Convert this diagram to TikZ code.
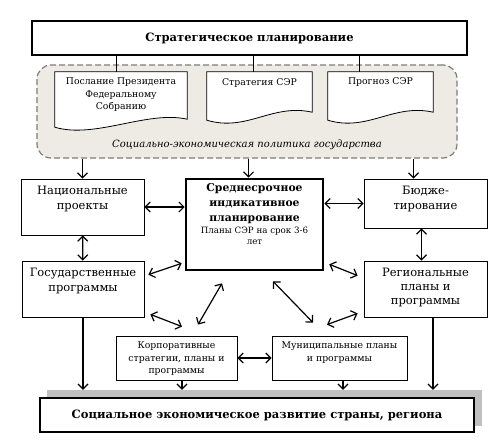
\documentclass[tikz,border=0pt]{standalone}
\usepackage{fontspec}
\setmainfont{DejaVu Serif}
\usetikzlibrary{arrows.meta}

\definecolor{polfill}{RGB}{237,235,228}
\definecolor{polline}{RGB}{125,125,125}
\definecolor{shadow}{RGB}{192,192,192}

% outline of a document sheet with a wavy lower edge
\newcommand{\docpath}[1]{\draw[line width=0.8pt, fill=white] (#1.north west) -- (#1.north east) -- ([yshift=11pt]#1.south east) .. controls ([xshift=-40pt,yshift=20pt]#1.south east) and ([xshift=40pt,yshift=-9pt]#1.south west) .. ([yshift=3pt]#1.south west) -- cycle;}

\begin{document}
\begin{tikzpicture}[x=1pt, y=-1pt, >={Straight Barb[length=5pt,width=10pt]}]
	\tikzstyle{every node}=[inner sep=0pt, font=\fontsize{11.5}{15}\selectfont]
	\tikzstyle{blk}=[draw, rectangle, fill=white, line width=0.8pt]
	\tikzstyle{big}=[draw, rectangle, fill=white, line width=2.6pt, font=\fontsize{11.5}{14}\selectfont\bfseries]
	\tikzstyle{region}=[draw=polline, fill=polfill, dash pattern=on 6pt off 3pt, line width=1.2pt, rounded corners=14pt]
	\tikzstyle{txt}=[anchor=north, align=center, yshift=-6pt]
	\tikzstyle{small}=[font=\fontsize{9.3}{12.5}\selectfont]
	\tikzstyle{arr}=[<->, line width=1.2pt]
	\tikzstyle{one}=[->, line width=1.2pt]
	\useasboundingbox (0,0) rectangle (500,441);

	% strategic level
	\draw (249.5,38) node (top) [big, minimum width=435, minimum height=34] {Стратегическое планирование};
	\draw (247,111.5) node (pol) [region, minimum width=420, minimum height=93, label={[anchor=south, yshift=9pt, font=\fontsize{10}{12}\selectfont\itshape]south:Социально-экономическая политика государства}] {};

	% documents
	\draw (121,101) node (d1) [minimum width=132, minimum height=58] {};
	\docpath{d1}
	\draw (d1.north) node (d1t) [txt, small] {Послание Президента\\Федеральному\\Собранию};
	\draw (259.5,97.5) node (d2) [minimum width=105, minimum height=51] {};
	\docpath{d2}
	\draw (d2.north) node (d2t) [txt, small, yshift=-1pt] {Стратегия СЭР};
	\draw (380.5,97.5) node (d3) [minimum width=105, minimum height=51] {};
	\docpath{d3}
	\draw (d3.north) node (d3t) [txt, small] {Прогноз СЭР};

	\draw[line width=0.8pt] ([xshift=-5pt]d1.north |- top.south) -- ([xshift=-5pt]d1.north);
	\draw[line width=0.8pt] ([xshift=-6.5pt]d2.north |- top.south) -- ([xshift=-6.5pt]d2.north);
	\draw[line width=0.8pt] ([xshift=-21.5pt]d3.north |- top.south) -- ([xshift=-21.5pt]d3.north);

	% middle level
	\draw (82.5,207) node (nat) [blk, minimum width=123, minimum height=56, label={[txt, yshift=-1pt]north:Национальные\\проекты}] {};
	\draw (83,289) node (gos) [blk, minimum width=122, minimum height=56, label={[txt, yshift=-1pt]north:Государственные\\программы}] {};
	\draw (254.5,224.5) node (cen) [big, minimum width=137, minimum height=91, font=\fontsize{11.5}{15}\selectfont, label={[txt, font=\fontsize{10.8}{15}\selectfont\bfseries]north:Среднесрочное\\индикативное\\планирование\\[-3pt]{\fontsize{8.7}{11}\mdseries\selectfont Планы СЭР на срок 3-6}\\[-4pt]{\fontsize{8.7}{11}\mdseries\selectfont лет}}] {};
	\draw (425.5,203.5) node (bud) [blk, minimum width=123, minimum height=49, label={[txt, yshift=-1pt]north:Бюдже-\\тирование}] {};
	\draw (425.5,289) node (reg) [blk, minimum width=123, minimum height=56, label={[txt, yshift=-1pt, font=\fontsize{11.5}{14}\selectfont]north:Региональные\\планы и\\программы}] {};
	\draw (176.5,358) node (kor) [blk, minimum width=121, minimum height=44, label={[txt, small]north:Корпоративные\\стратегии, планы и\\программы}] {};
	\draw (339.5,358) node (mun) [blk, minimum width=135, minimum height=44, label={[txt, small]north:Муниципальные планы\\и программы}] {};

	% result
	\draw (264.5,408) node (shd) [fill=shadow, minimum width=435, minimum height=36] {};
	\draw (257,415) node (bot) [big, minimum width=434, minimum height=34] {Социальное экономическое развитие страны, региона};

	% arrows
	\draw[one] (nat |- pol.south) -- (nat);
	\draw[one] ([xshift=-6pt]cen.north |- pol.south) -- ([xshift=-6pt]cen.north);
	\draw[one] ([xshift=-12pt]bud.north |- pol.south) -- ([xshift=-12pt]bud.north);
	\draw[arr] (nat.east) -- (nat.east -| cen.west);
	\draw[arr] (cen.east |- bud.west) -- (bud.west);
	\draw[arr] (nat) -- (gos);
	\draw[arr] ([xshift=-4pt]bud.south) -- ([xshift=-4pt]reg.north);
	\draw[arr] ([xshift=4pt,yshift=-14pt]gos.north east) -- ([xshift=-3pt,yshift=8pt]cen.south west);
	\draw[arr] ([xshift=5pt,yshift=7pt]cen.south east) -- ([xshift=-6pt,yshift=-15pt]reg.north west);
	\draw[arr] ([xshift=6pt,yshift=3pt]gos.south east) -- ([xshift=5.5pt,yshift=9pt]kor.north);
	\draw[arr] ([xshift=21.5pt,yshift=11pt]kor.north) -- ([xshift=-32.5pt,yshift=-12pt]cen.south);
	\draw[arr] ([xshift=-26.5pt,yshift=13pt]mun.north) -- ([xshift=18.5pt,yshift=-10pt]cen.south);
	\draw[arr] ([xshift=-12.5pt,yshift=11pt]mun.north) -- ([xshift=-6pt,yshift=4pt]reg.south west);
	\draw[arr] (kor.east) -- (mun.west);
	\draw[one] (gos.south) -- (gos.south |- shd.north);
	\draw[one] ([xshift=5.5pt]kor.south) -- ([xshift=5.5pt]kor.south |- shd.north);
	\draw[one] ([xshift=3.5pt]mun.south) -- ([xshift=3.5pt]mun.south |- shd.north);
	\draw[one] ([xshift=7.5pt]reg.south) -- ([xshift=7.5pt]reg.south |- shd.north);
\end{tikzpicture}
\end{document}
